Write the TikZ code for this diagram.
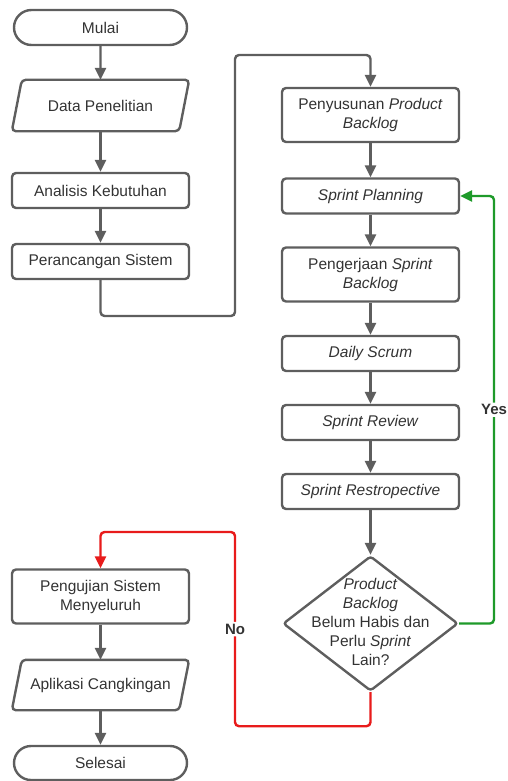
\documentclass[tikz,border=0pt]{standalone}
\usepackage{fontspec}
\setmainfont{Liberation Sans}
\usetikzlibrary{arrows.meta,calc,shapes.geometric,shapes.misc}
\definecolor{linegray}{HTML}{5E5E5E}
\definecolor{textgray}{HTML}{333333}
\definecolor{yesgreen}{HTML}{1E9A2A}
\definecolor{nored}{HTML}{E81B1B}

\begin{document}
\begin{tikzpicture}[x=1pt,y=-1pt,
    font=\fontsize{15.5}{19}\selectfont, text=textgray,
    boxline/.style={draw=linegray, line width=2.4pt, rounded corners=4pt},
    box/.style={boxline, fill=white, minimum width=177pt, minimum height=35pt, align=center, inner sep=2pt},
    tallbox/.style={box, minimum height=54pt},
    term/.style={draw=linegray, line width=2.4pt, rounded rectangle, minimum width=177pt, minimum height=35pt, inner sep=2pt},
    io/.style={minimum width=167pt, minimum height=51pt, inner sep=0pt},
    flow/.style={draw=linegray, line width=2.4pt, rounded corners=4pt, -{Triangle[width=11pt,length=12pt]}},
    label/.style={fill=white, font=\fontsize{15}{19}\selectfont\bfseries, inner sep=2pt}]
  \useasboundingbox (0,0) rectangle (508,781);
  % left column
  \node[term] (start) at (100.5,27.5) {Mulai};
  \node[io] (data) at (100.5,105.5) {Data Penelitian};
  \draw[boxline] ($(data.north west)+(5,0)$) -- ($(data.north east)+(5,0)$) -- ($(data.south east)+(-5,0)$) -- ($(data.south west)+(-5,0)$) -- cycle;
  \node[box] (ana) at (100.5,190.5) {Analisis Kebutuhan};
  \node[box] (per) at (100.5,261.5) {Perancangan Sistem};
  % right column
  \node[tallbox] (pps) at (370.5,115) {Penyusunan \textit{Product}\\\textit{Backlog}};
  \node[box] (plan) at (370.5,196) {\textit{Sprint Planning}};
  \node[tallbox] (work) at (370.5,274.5) {Pengerjaan \textit{Sprint}\\\textit{Backlog}};
  \node[box] (daily) at (370.5,353.5) {\textit{Daily Scrum}};
  \node[box] (review) at (370.5,422.5) {\textit{Sprint Review}};
  \node[box] (retro) at (370.5,491.5) {\textit{Sprint Restropective}};
  % decision
  \node[diamond, draw=linegray, line width=2.4pt, rounded corners=3pt, minimum width=175pt, minimum height=135pt, inner sep=0pt] (dec) at (370.5,623.5) {};
  \node[align=center] (dectext) at (370.5,622) {\textit{Product}\\\textit{Backlog}\\Belum Habis dan\\Perlu \textit{Sprint}\\Lain?};
  % bottom left
  \node[tallbox] (test) at (100.5,596.5) {Pengujian Sistem\\Menyeluruh};
  \node[io, minimum height=50pt] (app) at (100.5,685) {Aplikasi Cangkingan};
  \draw[boxline] ($(app.north west)+(5,0)$) -- ($(app.north east)+(5,0)$) -- ($(app.south east)+(-5,0)$) -- ($(app.south west)+(-5,0)$) -- cycle;
  \node[term, minimum height=34pt] (stop) at (100.5,763) {Selesai};
  % bends
  \coordinate (bendA) at (235,316);
  \coordinate (bendB) at (235,55);
  \coordinate (yescorner) at (494,196);
  \coordinate (nocorner) at (235,532);
  % arrows
  \draw[flow] (start) -- (data);
  \draw[flow] (data) -- (ana);
  \draw[flow] (ana) -- (per);
  \draw[flow] (per.south) |- (bendA) -- (bendB) -| (pps.north);
  \draw[flow] (pps) -- (plan);
  \draw[flow] (plan) -- (work);
  \draw[flow] (work) -- (daily);
  \draw[flow] (daily) -- (review);
  \draw[flow] (review) -- (retro);
  \draw[flow] (retro) -- (dec.north);
  \draw[flow, draw=yesgreen] (dec.east) -| (yescorner) node[label, pos=0.75] (yes) {Yes} -- (plan.east);
  \draw[flow, draw=nored] (dec.south) -- ++(0,34) -| (nocorner) node[label, pos=0.75] (no) {No} -| (test.north);
  \draw[flow] (test) -- (app);
  \draw[flow] (app) -- (stop);
\end{tikzpicture}
\end{document}
